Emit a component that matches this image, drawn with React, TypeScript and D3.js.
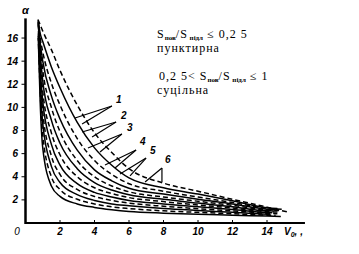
import React from "react";
import * as d3 from "d3";

const V0_GRID = [0.85, 1, 1.5, 2, 3, 4, 5, 6, 8, 10, 12, 14];
// alpha values at V0_GRID, one row per grid point, columns: innermost (0) to outermost (11)
const A_085 = [10.5, 11.5, 12.3, 13.0, 13.6, 14.2, 14.7, 15.2, 15.6, 16.0, 16.4, 17.15];
const A_1 = [6.5, 7.6, 8.6, 9.6, 10.5, 11.4, 12.3, 13.2, 14.0, 14.8, 15.7, 16.6];
const A_15 = [3.2, 4.0, 4.9, 5.8, 6.8, 7.8, 8.9, 10.0, 11.0, 12.1, 13.5, 15.0];
const A_2 = [2.3, 2.9, 3.5, 4.2, 5.0, 5.9, 6.9, 7.9, 9.0, 10.2, 11.7, 13.2];
const A_3 = [1.65, 2.05, 2.45, 2.9, 3.4, 4.0, 4.7, 5.4, 6.3, 7.3, 8.7, 10.2];
const A_4 = [1.35, 1.65, 1.95, 2.3, 2.65, 3.05, 3.5, 4.0, 4.6, 5.4, 6.5, 7.8];
const A_5 = [1.15, 1.4, 1.65, 1.95, 2.25, 2.55, 2.85, 3.2, 3.65, 4.2, 5.0, 6.1];
const A_6 = [1.0, 1.25, 1.5, 1.72, 1.95, 2.2, 2.45, 2.7, 3.0, 3.4, 3.9, 4.7];
const A_8 = [0.85, 1.05, 1.25, 1.45, 1.65, 1.85, 2.05, 2.25, 2.5, 2.75, 3.05, 3.45];
const A_10 = [0.75, 0.92, 1.08, 1.24, 1.4, 1.56, 1.72, 1.88, 2.05, 2.25, 2.5, 2.75];
const A_12 = [0.68, 0.8, 0.93, 1.05, 1.17, 1.29, 1.41, 1.53, 1.65, 1.78, 1.92, 2.05];
const A_14 = [0.6, 0.68, 0.76, 0.84, 0.91, 0.98, 1.05, 1.12, 1.19, 1.26, 1.32, 1.37];
const GRID_ROWS = [A_085, A_1, A_15, A_2, A_3, A_4, A_5, A_6, A_8, A_10, A_12, A_14];

const CURVE_START: [number, number][] = [
  [0.74, 16.0], [0.74, 16.2], [0.75, 16.4], [0.75, 16.6], [0.76, 16.8], [0.76, 17.0],
  [0.75, 17.1], [0.74, 17.2], [0.74, 17.3], [0.73, 17.4], [0.73, 17.5], [0.72, 17.6],
];
const CURVE_END: [number, number][] = [
  [14.8, 0.57], [14.5, 0.66], [14.2, 0.75], [14.6, 0.8], [14.3, 0.89], [14.7, 0.94],
  [14.4, 1.03], [14.8, 1.07], [14.5, 1.15], [14.9, 1.18], [14.6, 1.25], [15.2, 0.95],
];
const CURVE_DASHED = [false, true, false, true, false, true, false, true, false, true, false, true];

const Y_TICKS = [2, 4, 6, 8, 10, 12, 14, 16];
const X_TICKS = [2, 4, 6, 8, 10, 12, 14];

const LABELS = ["1", "2", "3", "4", "5", "6"];
const LABEL_POS: [number, number][] = [
  [5.25, 10.38], [5.54, 9.0], [5.88, 7.96], [6.64, 6.75], [7.22, 5.97], [8.09, 5.19],
];
const LABEL_APEX: [number, number][] = [
  [5.01, 10.12], [5.25, 8.74], [5.59, 7.7], [6.41, 6.31], [6.99, 5.62], [7.91, 4.76],
];
const LABEL_TARGETS: [number, number][][] = [
  [[2.87, 9.08], [3.28, 8.56]],
  [[3.28, 7.87], [3.86, 7.44]],
  [[3.62, 6.49], [4.32, 6.14]],
  [[4.61, 5.02], [5.19, 4.76]],
  [[5.48, 4.24], [6.06, 4.07]],
  [[6.93, 3.55], [7.91, 3.55]],
];

export default function App() {
  const W = 359, H = 254;
  const x = d3.scaleLinear().domain([0, 16]).range([25.5, 25.5 + 16 * 17.25]);
  const y = d3.scaleLinear().domain([0, 16]).range([223, 223 - 16 * 11.56]);
  const line = d3
    .line<[number, number]>()
    .x((d) => x(d[0]))
    .y((d) => y(d[1]))
    .curve(d3.curveMonotoneX);

  const curves = CURVE_START.map((start, i) => {
    const pts: [number, number][] = [start];
    V0_GRID.forEach((v, j) => pts.push([v, GRID_ROWS[j][i]]));
    pts.push(CURVE_END[i]);
    return pts;
  });

  const tickFont = {
    fontFamily: "'Liberation Sans', Arial, sans-serif",
    fontWeight: 700,
    fontStyle: "italic" as const,
    fontSize: 10,
  };
  const serif = {
    fontFamily: "'Liberation Serif', 'Times New Roman', serif",
    fontSize: 12,
    letterSpacing: 1,
  };

  return (
    <svg
      width={W}
      height={H}
      style={{ position: "absolute", left: 0, top: 0, background: "#fff" }}
    >
      <rect width={W} height={H} fill="#fff" />
      {curves.map((pts, i) => (
        <path
          key={i}
          d={line(pts) || ""}
          fill="none"
          stroke="#000"
          strokeWidth={1.5}
          strokeDasharray={CURVE_DASHED[i] ? "5,3" : undefined}
        />
      ))}
      <line x1={x(0)} x2={x(0)} y1={y(0) + 1} y2={y(17.7)} stroke="#000" strokeWidth={2.5} />
      <line x1={x(0)} x2={x(16.2)} y1={y(0)} y2={y(0)} stroke="#000" strokeWidth={2} />
      {Y_TICKS.map((t) => (
        <g key={"y" + t}>
          <line x1={x(0) - 4} x2={x(0)} y1={y(t)} y2={y(t)} stroke="#000" strokeWidth={1} />
          <text x={18} y={y(t) + 3.5} textAnchor="end" {...tickFont}>
            {t}
          </text>
        </g>
      ))}
      {X_TICKS.map((t) => (
        <g key={"x" + t}>
          <line x1={x(t)} x2={x(t)} y1={y(0) - 3} y2={y(0)} stroke="#000" strokeWidth={1} />
          <text x={x(t)} y={235} textAnchor="middle" {...tickFont}>
            {t}
          </text>
        </g>
      ))}
      <text x={17} y={235} textAnchor="middle" {...tickFont} fontWeight={400}>
        0
      </text>
      <text x={x(0)} y={14} textAnchor="middle" {...tickFont} fontSize={11}>
        α
      </text>
      <text x={284} y={235} {...tickFont}>
        V
        <tspan fontSize={7} dy={2}>0</tspan>
        <tspan dy={-2}>, ,</tspan>
      </text>
      {LABELS.map((lab, i) => (
        <g key={"l" + i}>
          {LABEL_TARGETS[i].map((tp, k) => (
            <line
              key={k}
              x1={x(LABEL_APEX[i][0])}
              y1={y(LABEL_APEX[i][1])}
              x2={x(tp[0])}
              y2={y(tp[1])}
              stroke="#000"
              strokeWidth={1.2}
            />
          ))}
          <text x={x(LABEL_POS[i][0])} y={y(LABEL_POS[i][1])} {...tickFont}>
            {lab}
          </text>
        </g>
      ))}
      <text x={157} y={38} {...serif}>
        S
        <tspan fontSize={7} fontWeight={700} dy={2} letterSpacing={0}>пов</tspan>
        <tspan dy={-2}>/S</tspan>
        <tspan fontSize={7} fontWeight={700} dy={2} letterSpacing={0}> підл</tspan>
        <tspan dy={-2}> ≤ 0,2 5</tspan>
      </text>
      <text x={157} y={52} {...serif}>
        пунктирна
      </text>
      <text x={159} y={80} {...serif}>
        0,2 5&lt; S
        <tspan fontSize={7} fontWeight={700} dy={2} letterSpacing={0}>пов</tspan>
        <tspan dy={-2}>/S</tspan>
        <tspan fontSize={7} fontWeight={700} dy={2} letterSpacing={0}> підл</tspan>
        <tspan dy={-2}> ≤ 1</tspan>
      </text>
      <text x={157} y={94} {...serif}>
        суцільна
      </text>
    </svg>
  );
}
